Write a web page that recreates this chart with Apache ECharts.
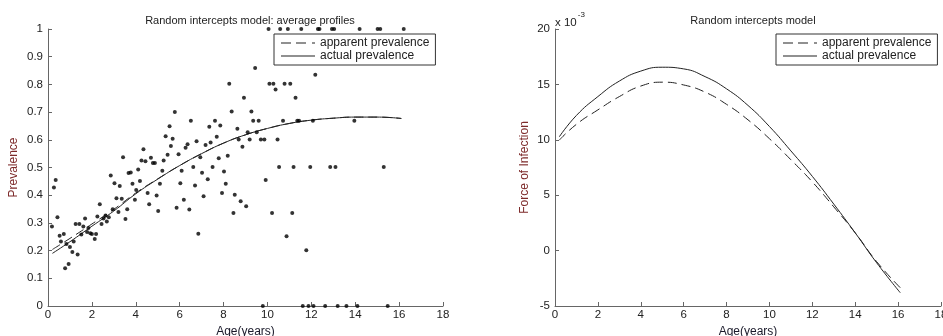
<!DOCTYPE html>
<html>
<head>
<meta charset="utf-8">
<script src="https://cdn.jsdelivr.net/npm/echarts@6/dist/echarts.min.js"></script>
<style>
html,body{margin:0;padding:0;background:#fff;}
#chart{width:943px;height:336px;}
</style>
</head>
<body>
<div id="chart"></div>
<script>
// ---- data ----
const xTicks = [0, 2, 4, 6, 8, 10, 12, 14, 16, 18];
const prevTicks = [0, 0.1, 0.2, 0.3, 0.4, 0.5, 0.6, 0.7, 0.8, 0.9, 1];
const foiTicks = [-5, 0, 5, 10, 15, 20];

const obsAge = [0.18,0.27,0.35,0.43,0.53,0.59,0.72,0.78,0.84,0.94,1.0,1.11,1.17,1.26,1.35,1.43,1.52,1.61,1.69,1.78,1.84,1.93,2.0,2.13,2.19,2.25,2.36,2.44,2.53,2.62,2.68,2.77,2.86,2.95,3.03,3.12,3.21,3.27,3.36,3.42,3.53,3.61,3.67,3.77,3.85,3.96,4.02,4.11,4.19,4.26,4.35,4.44,4.54,4.61,4.69,4.78,4.87,4.95,5.02,5.1,5.21,5.27,5.36,5.45,5.54,5.6,5.68,5.78,5.86,5.95,6.03,6.09,6.19,6.27,6.36,6.44,6.51,6.62,6.7,6.77,6.85,6.94,7.02,7.09,7.18,7.28,7.35,7.41,7.5,7.61,7.69,7.78,7.85,7.93,8.02,8.1,8.19,8.26,8.37,8.45,8.51,8.63,8.69,8.78,8.86,8.93,9.03,9.1,9.19,9.27,9.35,9.44,9.51,9.6,9.7,9.86,9.92,10.09,10.27,10.37,10.21,10.46,10.53,10.71,10.78,10.87,11.04,11.13,11.19,11.28,11.36,11.44,11.77,11.95,12.07,12.18,12.86,13.1,13.96,15.3,
  10.05,10.58,10.93,11.54,12.3,12.37,12.94,13.04,14.2,15.02,15.14,16.21,
  9.79,11.61,11.87,12.1,12.63,13.2,13.6,14.1,15.48];
const obsPrev = [0.287,0.428,0.455,0.32,0.254,0.233,0.26,0.136,0.224,0.152,0.213,0.195,0.233,0.296,0.186,0.296,0.258,0.287,0.316,0.267,0.282,0.263,0.26,0.242,0.26,0.323,0.367,0.296,0.316,0.327,0.305,0.32,0.471,0.349,0.443,0.389,0.339,0.433,0.387,0.537,0.314,0.349,0.48,0.482,0.441,0.384,0.419,0.493,0.451,0.525,0.566,0.523,0.408,0.367,0.535,0.516,0.516,0.399,0.343,0.441,0.488,0.525,0.613,0.546,0.649,0.578,0.604,0.7,0.355,0.548,0.443,0.488,0.384,0.571,0.584,0.348,0.669,0.502,0.435,0.595,0.261,0.537,0.481,0.396,0.581,0.458,0.647,0.59,0.502,0.669,0.611,0.533,0.652,0.408,0.486,0.441,0.542,0.802,0.702,0.336,0.402,0.64,0.601,0.378,0.575,0.752,0.36,0.627,0.601,0.702,0.669,0.859,0.627,0.669,0.601,0.601,0.455,0.802,0.802,0.782,0.336,0.601,0.502,0.669,0.802,0.252,0.802,0.336,0.502,0.752,0.669,0.669,0.201,0.502,0.669,0.835,0.502,0.502,0.669,0.502,
  1,1,1,1,1,1,1,1,1,1,1,1,
  0,0,0,0,0,0,0,0,0];

const ageGrid = [0.2, 1, 2, 3, 4, 5, 6, 7, 8, 9, 10, 11, 12, 13, 14, 15, 16.1];
const prevApparent = [0.204,0.244,0.296,0.349,0.408,0.459,0.507,0.55,0.588,0.618,0.641,0.659,0.671,0.678,0.682,0.682,0.677];
const prevActual = [0.19,0.232,0.288,0.343,0.405,0.458,0.507,0.55,0.588,0.618,0.641,0.659,0.671,0.678,0.682,0.682,0.677];
// force of infection, in units of 10^-3
const foiApparent = [9.97,11.4,12.7,13.9,14.85,15.2,14.95,14.3,13.2,11.8,10.1,8.2,6.2,3.95,1.6,-1.0,-3.35];
const foiActual = [10.27,12.2,13.9,15.3,16.2,16.55,16.4,15.7,14.6,13.1,11.2,9.0,6.7,4.2,1.6,-1.1,-3.8];

const seriesNames = ['apparent prevalence', 'actual prevalence'];

// ---- chart ----
const FONT = 'Liberation Sans, Arial, sans-serif';
const zip = (a, b) => a.map((v, i) => [v, b[i]]);
const dashedIcon = 'path://M0,0h10v1h-10zM15,0h10v1h-10zM31,0h3v1h-3z';
const solidIcon = 'path://M0,0h34v1h-34z';

function xAxisCfg(gridIndex) {
  return {
    gridIndex, type: 'value', min: xTicks[0], max: xTicks[xTicks.length - 1], interval: 2,
    name: 'Age(years)', nameLocation: 'middle', nameGap: 17,
    nameTextStyle: { color: '#1a1a2a', fontSize: 12, fontFamily: FONT },
    axisLine: { onZero: false, lineStyle: { color: '#666', width: 1 } },
    axisTick: { inside: true, length: 4, lineStyle: { color: '#666' } },
    axisLabel: { color: '#222', fontSize: 11.5, fontFamily: FONT, margin: 3 },
    splitLine: { show: false }
  };
}

function legendCfg(left) {
  return {
    data: [{ name: seriesNames[0], icon: dashedIcon }, { name: seriesNames[1], icon: solidIcon }],
    orient: 'vertical', left, top: 34,
    backgroundColor: '#fff', borderColor: '#333', borderWidth: 1,
    padding: [3, 6, 3, 7], itemGap: 1, itemWidth: 34, itemHeight: 1,
    itemStyle: { color: '#222', borderWidth: 0 },
    textStyle: { fontSize: 12, color: '#222', fontFamily: FONT }, selectedMode: false
  };
}

const lineCommon = { type: 'line', symbol: 'none', smooth: true, silent: true };

const option = {
  animation: false,
  backgroundColor: '#fff',
  title: [
    { text: 'Random intercepts model: average profiles', left: 245, top: 10, textAlign: 'center',
      textStyle: { fontSize: 11, fontWeight: 'normal', color: '#222', fontFamily: FONT } },
    { text: 'Random intercepts model', left: 748, top: 10, textAlign: 'center',
      textStyle: { fontSize: 11, fontWeight: 'normal', color: '#222', fontFamily: FONT } }
  ],
  grid: [
    { left: 48, top: 29, width: 395, height: 277, containLabel: false, outerBoundsMode: 'none' },
    { left: 555, top: 29, width: 386, height: 277, containLabel: false, outerBoundsMode: 'none' }
  ],
  xAxis: [xAxisCfg(0), xAxisCfg(1)],
  yAxis: [
    { gridIndex: 0, type: 'value', min: 0, max: 1, interval: 0.1,
      name: 'Prevalence', nameLocation: 'middle', nameGap: 28,
      nameTextStyle: { color: '#7d2a2a', fontSize: 12, fontFamily: FONT },
      axisLine: { show: true, onZero: false, lineStyle: { color: '#666' } },
      axisTick: { show: true, inside: true, length: 4, lineStyle: { color: '#666' } },
      axisLabel: { color: '#222', fontSize: 11.5, fontFamily: FONT, margin: 5,
        formatter: v => (v === 0 ? '0' : (Math.abs(v - 1) < 1e-9 ? '1' : v.toFixed(1))) },
      splitLine: { show: false } },
    { gridIndex: 1, type: 'value', min: -5, max: 20, interval: 5,
      name: 'Force of Infection', nameLocation: 'middle', nameGap: 24,
      nameTextStyle: { color: '#7d2a2a', fontSize: 12, fontFamily: FONT },
      axisLine: { show: true, onZero: false, lineStyle: { color: '#666' } },
      axisTick: { show: true, inside: true, length: 4, lineStyle: { color: '#666' } },
      axisLabel: { color: '#222', fontSize: 11.5, fontFamily: FONT, margin: 5 },
      splitLine: { show: false } }
  ],
  legend: [legendCfg(274), legendCfg(776)],
  graphic: [
    { type: 'text', left: 555, top: 11,
      style: { text: '{a|x 10}{b|-3}', fontFamily: FONT,
        rich: { a: { fontSize: 11.5, fill: '#222', fontFamily: FONT, padding: [6, 0, 0, 0] },
                b: { fontSize: 8, fill: '#222', fontFamily: FONT, verticalAlign: 'top', padding: [0, 0, 0, 1] } } } }
  ],
  series: [
    { name: 'data', type: 'scatter', xAxisIndex: 0, yAxisIndex: 0, symbolSize: 4,
      itemStyle: { color: '#000' }, data: zip(obsAge, obsPrev), z: 3 },
    Object.assign({}, lineCommon, { name: seriesNames[0], xAxisIndex: 0, yAxisIndex: 0,
      lineStyle: { color: '#222', width: 1, type: [9, 5] }, itemStyle: { color: '#222' },
      data: zip(ageGrid, prevApparent) }),
    Object.assign({}, lineCommon, { name: seriesNames[1], xAxisIndex: 0, yAxisIndex: 0,
      lineStyle: { color: '#222', width: 1, type: 'solid' }, itemStyle: { color: '#222' },
      data: zip(ageGrid, prevActual) }),
    Object.assign({}, lineCommon, { name: seriesNames[0], xAxisIndex: 1, yAxisIndex: 1,
      lineStyle: { color: '#222', width: 1, type: [9, 5] }, itemStyle: { color: '#222' },
      data: zip(ageGrid, foiApparent) }),
    Object.assign({}, lineCommon, { name: seriesNames[1], xAxisIndex: 1, yAxisIndex: 1,
      lineStyle: { color: '#222', width: 1, type: 'solid' }, itemStyle: { color: '#222' },
      data: zip(ageGrid, foiActual) })
  ]
};

const chart = echarts.init(document.getElementById('chart'), null, { renderer: 'canvas' });
chart.setOption(option);
</script>
</body>
</html>
